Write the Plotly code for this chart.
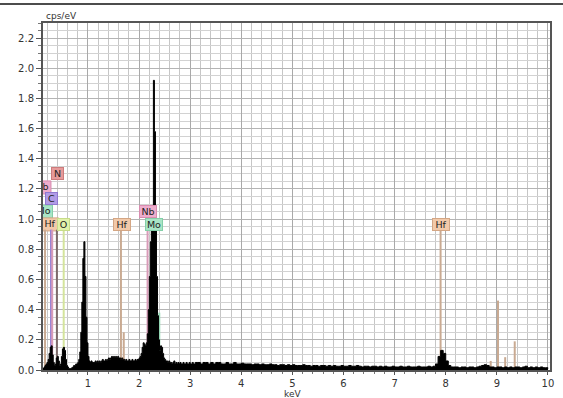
import plotly.graph_objects as go

# ---------------- data ----------------
# spectrum, fine channel grid (keV) 0.12 .. 3.10
low_start, low_step = 0.12, 0.02
counts_low = [
    0.01, 0.02, 0.03, 0.04, 0.05, 0.07, 0.11, 0.15, 0.16, 0.10, 0.05, 0.03, 0.04, 0.08, 0.09, 0.06, 0.03, 0.04, 0.09, 0.14, 0.15, 0.13, 0.07, 0.03, 0.02,
    0.01, 0.01, 0.01, 0.015, 0.02, 0.03, 0.03, 0.04, 0.04, 0.05, 0.07, 0.12, 0.25, 0.45, 0.74, 0.85, 0.62, 0.35, 0.18, 0.09, 0.06, 0.05, 0.06, 0.05, 0.05,
    0.05, 0.06, 0.05, 0.06, 0.05, 0.06, 0.05, 0.06, 0.07, 0.06, 0.06, 0.07, 0.06, 0.07, 0.08, 0.07, 0.08, 0.09, 0.08, 0.09, 0.08, 0.09, 0.08, 0.09, 0.08,
    0.08, 0.07, 0.08, 0.07, 0.07, 0.06, 0.07, 0.06, 0.06, 0.07, 0.06, 0.06, 0.07, 0.06, 0.06, 0.07, 0.06, 0.07, 0.07, 0.08, 0.09, 0.11, 0.15, 0.18, 0.17,
    0.16, 0.18, 0.24, 0.40, 0.62, 0.85, 0.95, 1.00, 1.92, 1.58, 0.96, 0.62, 0.36, 0.20, 0.13, 0.16, 0.15, 0.11, 0.08, 0.07, 0.06, 0.06, 0.05, 0.06, 0.05,
    0.05, 0.04, 0.05, 0.06, 0.04, 0.05, 0.04, 0.05, 0.04, 0.05, 0.04, 0.04, 0.05, 0.04, 0.04, 0.05, 0.04, 0.04, 0.05, 0.04, 0.04, 0.05, 0.04, 0.04, 0.05,
]
# spectrum, coarse channel grid (keV) 3.15 .. 10.00
high_start, high_step = 3.15, 0.05
counts_high = [
    0.05, 0.04, 0.05, 0.05, 0.04, 0.05, 0.04, 0.05, 0.05, 0.04, 0.04, 0.05, 0.04, 0.04, 0.05, 0.04, 0.04, 0.045, 0.04, 0.04,
    0.04, 0.035, 0.04, 0.04, 0.035, 0.04, 0.035, 0.035, 0.04, 0.035, 0.035, 0.03, 0.035, 0.035, 0.03, 0.035, 0.03, 0.035, 0.03, 0.03,
    0.03, 0.035, 0.03, 0.03, 0.025, 0.03, 0.03, 0.025, 0.03, 0.03, 0.025, 0.03, 0.025, 0.03, 0.025, 0.025, 0.03, 0.025, 0.025, 0.03,
    0.025, 0.025, 0.03, 0.025, 0.02, 0.025, 0.025, 0.02, 0.025, 0.025, 0.02, 0.025, 0.02, 0.025, 0.02, 0.02, 0.025, 0.02, 0.02, 0.025,
    0.02, 0.02, 0.025, 0.02, 0.02, 0.02, 0.025, 0.02, 0.02, 0.02, 0.025, 0.02, 0.025, 0.04, 0.09, 0.13, 0.11, 0.06, 0.03, 0.02,
    0.02, 0.02, 0.015, 0.02, 0.02, 0.015, 0.02, 0.02, 0.015, 0.02, 0.025, 0.03, 0.035, 0.03, 0.02, 0.02, 0.015, 0.02, 0.02, 0.015,
    0.02, 0.015, 0.02, 0.015, 0.02, 0.02, 0.015, 0.02, 0.025, 0.015, 0.02, 0.015, 0.02, 0.015, 0.02, 0.015, 0.015, 0.01,
]

# element marker lines (keV, top height, element)
line_kev = [0.16, 0.277, 0.30, 0.392, 0.525, 1.28, 1.645, 1.70, 2.166, 2.293, 2.395, 7.899, 8.88, 9.023, 9.163, 9.35]
line_top = [0.93, 0.93, 0.93, 0.93, 0.93, 0.05, 0.93, 0.25, 1.00, 0.93, 0.38, 0.93, 0.06, 0.46, 0.085, 0.19]
line_elem = ["Hf", "C", "Nb", "N", "O", "Hf", "Hf", "Hf", "Nb", "Mo", "Mo", "Hf", "Hf", "Hf", "Hf", "Hf"]

# element labels
label_text = ["N", "Nb", "C", "Mo", "Hf", "O", "Hf", "Nb", "Mo", "Hf"]
label_kev = [0.41, 0.10, 0.28, 0.13, 0.25, 0.525, 1.66, 2.17, 2.29, 7.90]
label_level = [1.30, 1.21, 1.135, 1.05, 0.965, 0.965, 0.965, 1.05, 0.965, 0.965]

x_ticks = [1, 2, 3, 4, 5, 6, 7, 8, 9, 10]
x_range = [0.12, 10.04]
y_range = [0, 2.3]

# ---------------- styles ----------------
box_fill = {"Hf": "#f2c9a9", "Nb": "#eeaccc", "Mo": "#a9e5c6", "N": "#e79a9a",
            "C": "#b29ce6", "O": "#e2f1aa"}
box_edge = {"Hf": "#d4a684", "Nb": "#d88cb0", "Mo": "#84cfa8", "N": "#cc7c7c",
            "C": "#8f78d0", "O": "#c7dc88"}
line_col = {"Hf": "#c9aa92", "Nb": "#d99bb8", "Mo": "#92d4b2", "N": "#7d6a6a",
            "C": "#9a84d4", "O": "#d4e49c"}
label_font = dict(family="DejaVu Sans", size=9.5, color="#222222")

L, R, T, B = 43, 13, 23, 28
W, H = 563, 398
pw, ph = W - L - R, H - T - B
px_per_kev = pw / (x_range[1] - x_range[0])

energy = [round(low_start + i * low_step, 3) for i in range(len(counts_low))] + \
         [round(high_start + i * high_step, 3) for i in range(len(counts_high))]
counts = counts_low + counts_high

fig = go.Figure()

# marker lines (under spectrum)
for el in ["Hf", "C", "Nb", "N", "O", "Mo"]:
    xs, ys = [], []
    for k, t, e in zip(line_kev, line_top, line_elem):
        if e == el:
            xs += [k, k, None]
            ys += [0, t, None]
    fig.add_trace(go.Scatter(x=xs, y=ys, mode="lines",
                             line=dict(color=line_col[el], width=2),
                             hoverinfo="skip", showlegend=False))

# spectrum
fig.add_trace(go.Scatter(x=energy, y=counts, mode="lines",
                         line=dict(color="#000000", width=1, shape="hv"),
                         fill="tozeroy", fillcolor="#000000",
                         showlegend=False, hoverinfo="skip"))

shapes = []
annotations = []
clip_x, clip_y, clip_t = [], [], []
for t, k, lv in zip(label_text, label_kev, label_level):
    w = 18 if len(t) == 2 else 13
    left_px = (k - x_range[0]) * px_per_kev - w / 2
    if left_px < 0:
        # partly outside the plot: clipped box + clipped text
        shapes.append(dict(type="rect", xref="x", yref="y",
                           xsizemode="pixel", ysizemode="pixel",
                           xanchor=k, yanchor=lv,
                           x0=-w / 2, x1=w / 2, y0=-6.5, y1=6.5,
                           fillcolor=box_fill[t], line=dict(color=box_edge[t], width=1),
                           layer="between"))
        clip_x.append(k)
        clip_y.append(lv)
        clip_t.append(t)
    else:
        annotations.append(dict(text=t, x=k, y=lv, xref="x", yref="y",
                                xanchor="center", yanchor="middle", showarrow=False,
                                width=w - 2, height=11, borderpad=0, borderwidth=1,
                                bgcolor=box_fill[t], bordercolor=box_edge[t],
                                font=label_font))

fig.add_trace(go.Scatter(x=clip_x, y=clip_y, text=clip_t, mode="text",
                         textposition="middle center", textfont=label_font,
                         cliponaxis=True, showlegend=False, hoverinfo="skip"))

# top page rule
shapes.append(dict(type="line", xref="paper", yref="paper",
                   x0=(0 - L) / pw, x1=(W - L) / pw,
                   y0=(H - B - 4) / ph, y1=(H - B - 4) / ph,
                   line=dict(color="#111111", width=1.5)))

annotations += [
    dict(text="cps/eV", xref="paper", yref="paper", x=0, y=1, xanchor="left", yanchor="bottom",
         xshift=1, showarrow=False,
         font=dict(family="DejaVu Sans", size=9, color="#333333")),
    dict(text="keV", xref="paper", yref="paper", x=(292 - L) / pw, y=(H - B - 394) / ph,
         xanchor="center", yanchor="middle", showarrow=False,
         font=dict(family="DejaVu Sans", size=9, color="#333333")),
]

tickfont = dict(family="DejaVu Sans", size=10, color="#333333")

fig.update_layout(
    width=W, height=H,
    margin=dict(l=L, r=R, t=T, b=B, autoexpand=False),
    paper_bgcolor="white", plot_bgcolor="white",
    shapes=shapes,
    annotations=annotations,
    xaxis=dict(range=x_range, tickvals=x_ticks, ticktext=[str(v) for v in x_ticks],
               ticks="outside", ticklen=3, tickcolor="#555555",
               showgrid=True, gridcolor="#a9a9a9", gridwidth=1,
               minor=dict(dtick=0.2, tick0=0, showgrid=True, gridcolor="#c6c6c6",
                          ticks="outside", ticklen=2, tickcolor="#777777"),
               showline=True, mirror=True, linecolor="#555555", linewidth=2,
               zeroline=False, tickfont=tickfont, automargin=False, fixedrange=True),
    yaxis=dict(range=y_range, dtick=0.2, tick0=0, tickformat=".1f",
               ticks="outside", ticklen=5, tickcolor="#555555",
               showgrid=True, gridcolor="#b4b4b4", gridwidth=1,
               minor=dict(dtick=0.05, tick0=0, showgrid=True, gridcolor="#d2d2d2",
                          ticks="outside", ticklen=3, tickcolor="#777777"),
               showline=True, mirror=True, linecolor="#555555", linewidth=2,
               zeroline=False, tickfont=tickfont, automargin=False, fixedrange=True),
)

fig.write_html("out.html")
